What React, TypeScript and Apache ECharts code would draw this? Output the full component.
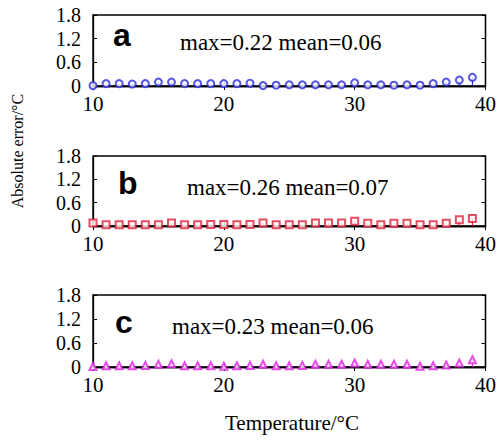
import React, { useEffect, useRef } from "react";
import * as echarts from "echarts";

const temps = [10,11,12,13,14,15,16,17,18,19,20,21,22,23,24,25,26,27,28,29,30,31,32,33,34,35,36,37,38,39];
const errA = [0.01,0.06,0.06,0.05,0.06,0.1,0.1,0.06,0.06,0.06,0.06,0.06,0.07,0.01,0.02,0.03,0.03,0.03,0.03,0.03,0.08,0.03,0.03,0.02,0.03,0.02,0.06,0.1,0.15,0.22];
const errB = [0.08,0.03,0.03,0.03,0.03,0.03,0.08,0.03,0.03,0.04,0.04,0.03,0.04,0.08,0.03,0.03,0.03,0.08,0.08,0.08,0.12,0.07,0.03,0.07,0.07,0.03,0.03,0.07,0.16,0.19];
const errC = [0.01,0.03,0.03,0.03,0.04,0.07,0.08,0.03,0.03,0.03,0.02,0.03,0.04,0.07,0.03,0.03,0.04,0.07,0.07,0.07,0.1,0.07,0.07,0.07,0.07,0.02,0.03,0.05,0.1,0.18];
const panelLetters = ["a", "b", "c"];
const statTexts = ["max=0.22 mean=0.06", "max=0.26 mean=0.07", "max=0.23 mean=0.06"];
const yTicks = [0, 0.6, 1.2, 1.8];
const yTitle = "Absolute error/°C";
const xTitle = "Temperature/°C";

const series = [errA, errB, errC];
const colors = ["#2a2ae0", "#e0203a", "#e020e0"];
const symbols = ["emptyCircle", "emptyRect", "emptyTriangle"];
const gridTops = [15, 156, 295];
const gridHeights = [71, 70, 72];
const letterX = [113, 118, 115];
const letterY = [35, 183, 322];
const statX = [180, 187, 172];
const statY = [42, 187, 326];

const serif = "Liberation Serif, DejaVu Serif, serif";

export default function App() {
  const ref = useRef<HTMLDivElement>(null);
  useEffect(() => {
    if (!ref.current) return;
    const chart = echarts.init(ref.current, null, { renderer: "svg" });
    const grids: any[] = [];
    const xAxes: any[] = [];
    const yAxes: any[] = [];
    const ser: any[] = [];
    const graphics: any[] = [];
    series.forEach((vals, i) => {
      grids.push({
        left: 93,
        width: 394,
        top: gridTops[i],
        height: gridHeights[i],
        show: true,
        borderColor: "#000",
        borderWidth: 1.3,
        backgroundColor: "transparent",
      });
      const common = {
        type: "value",
        gridIndex: i,
        splitLine: { show: false },
        axisLine: { show: true, lineStyle: { color: "#000", width: 1.3 } },
        axisTick: { show: true, inside: true, length: 4, lineStyle: { color: "#000" } },
      };
      xAxes.push({
        ...common,
        position: "bottom",
        min: 10,
        max: 40,
        interval: 10,
        axisLabel: { fontFamily: serif, fontSize: 21, color: "#000", margin: 7 },
      });
      xAxes.push({
        ...common,
        position: "top",
        min: 10,
        max: 40,
        interval: 10,
        axisLabel: { show: false },
      });
      yAxes.push({
        ...common,
        position: "left",
        min: 0,
        max: 1.8,
        interval: 0.6,
        axisLabel: {
          fontFamily: serif,
          fontSize: 20,
          color: "#000",
          margin: 12,
          formatter: (v: number) => {
            const t = yTicks.find((k) => Math.abs(k - v) < 1e-6);
            return t === 0 ? "0" : t !== undefined ? t.toFixed(1) : "";
          },
        },
      });
      yAxes.push({
        ...common,
        position: "right",
        min: 0,
        max: 1.8,
        interval: 0.6,
        axisLabel: { show: false },
      });
      const data = temps.map((t, k) => [t, vals[k]]);
      ser.push({
        type: "bar",
        xAxisIndex: i * 2,
        yAxisIndex: i * 2,
        data,
        barWidth: 1.2,
        itemStyle: { color: colors[i] },
        silent: true,
      });
      ser.push({
        type: "scatter",
        xAxisIndex: i * 2,
        yAxisIndex: i * 2,
        data,
        symbol: symbols[i],
        symbolSize: 7,
        clip: false,
        itemStyle: { color: colors[i], borderColor: colors[i], borderWidth: 1.2 },
        silent: true,
      });
      graphics.push({
        type: "text",
        x: letterX[i],
        y: letterY[i],
        style: {
          text: panelLetters[i],
          fontFamily: "Liberation Sans, Arial, sans-serif",
          fontWeight: "bold",
          fontSize: 32,
          fill: "#000",
          verticalAlign: "middle",
        },
      });
      graphics.push({
        type: "text",
        x: statX[i],
        y: statY[i],
        style: {
          text: statTexts[i],
          fontFamily: serif,
          fontSize: 23,
          fill: "#000",
          verticalAlign: "middle",
        },
      });
    });
    graphics.push({
      type: "text",
      x: 17,
      y: 151,
      rotation: Math.PI / 2,
      style: {
        text: yTitle,
        fontFamily: serif,
        fontSize: 16,
        fill: "#000",
        align: "center",
        verticalAlign: "middle",
      },
    });
    graphics.push({
      type: "text",
      x: 292,
      y: 423,
      style: {
        text: xTitle,
        fontFamily: serif,
        fontSize: 21,
        fill: "#000",
        align: "center",
        verticalAlign: "middle",
      },
    });
    chart.setOption({
      animation: false,
      backgroundColor: "#fff",
      grid: grids,
      xAxis: xAxes,
      yAxis: yAxes,
      series: ser,
      graphic: graphics,
    });
    return () => chart.dispose();
  }, []);
  return <div ref={ref} style={{ width: 499, height: 440, position: "absolute", left: 0, top: 0 }} />;
}
